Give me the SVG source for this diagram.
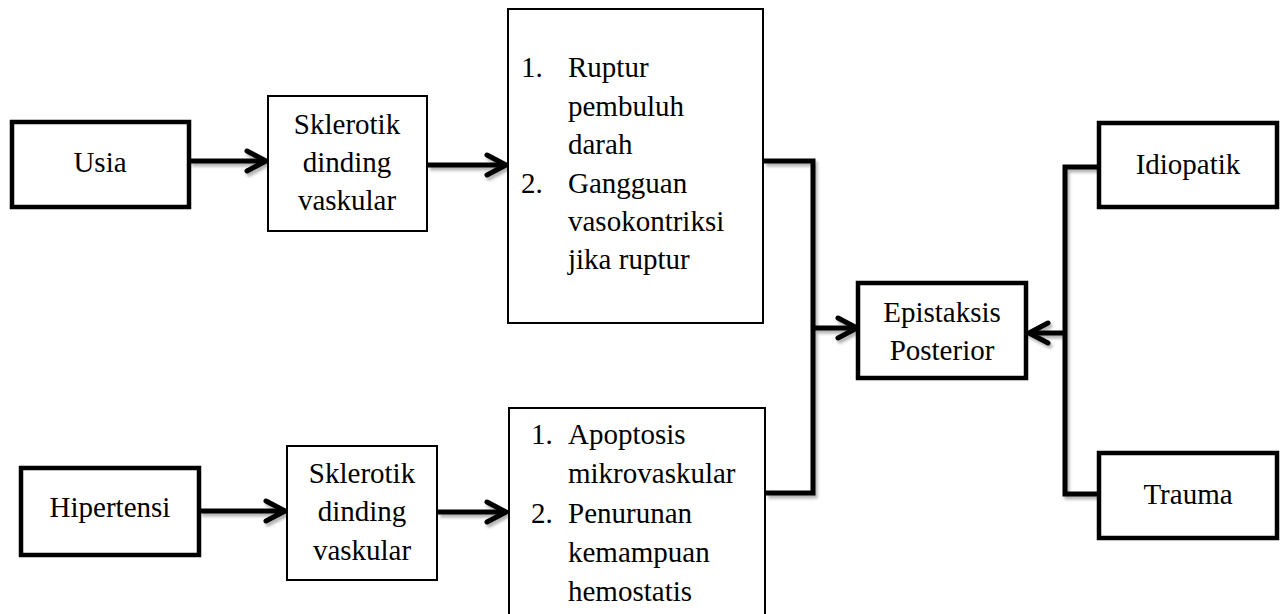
<svg xmlns="http://www.w3.org/2000/svg" width="1284" height="614" viewBox="0 0 1284 614">
<style>
.thick{fill:#fff;stroke:#000;stroke-width:4.5}
.thin{fill:#fff;stroke:#000;stroke-width:2}
text{font-family:"Liberation Serif","Times New Roman",serif;font-size:29px;fill:#000}
.c{text-anchor:middle}
.conn{fill:none;stroke:#000;stroke-width:5;stroke-linejoin:miter}
</style>
<defs>
<filter id="sh" x="-10%" y="-10%" width="120%" height="120%">
<feDropShadow dx="2" dy="3" stdDeviation="1.5" flood-color="#000" flood-opacity="0.3"/>
</filter>
<marker id="ah" viewBox="0 0 26 26" markerWidth="26" markerHeight="26" refX="22" refY="13" orient="auto" markerUnits="userSpaceOnUse">
<path d="M3,3 L22,13 L3,23" fill="none" stroke="#000" stroke-width="5" stroke-linecap="round" stroke-linejoin="miter"/>
</marker>
</defs>
<rect width="1284" height="614" fill="#fff"/>
<g id="connectors" filter="url(#sh)">
<path class="conn" d="M190,161 H266" marker-end="url(#ah)"/>
<path class="conn" d="M428,165 H506" marker-end="url(#ah)"/>
<path class="conn" d="M200,511 H285" marker-end="url(#ah)"/>
<path class="conn" d="M438,512 H506" marker-end="url(#ah)"/>
<path class="conn" d="M764,161 H813 V493 H766"/>
<path class="conn" d="M813,328 H857" marker-end="url(#ah)"/>
<path class="conn" d="M1099,167 H1065 V494 H1099"/>
<path class="conn" d="M1065,333 H1029" marker-end="url(#ah)"/>
</g>
<g id="usia">
<rect class="thick" x="12" y="122" width="177" height="85"/>
<text class="c" x="100" y="172">Usia</text>
</g>
<g id="sklerotik1">
<rect class="thin" x="268" y="96" width="159" height="135"/>
<text class="c" x="347" y="134">Sklerotik</text>
<text class="c" x="347" y="172">dinding</text>
<text class="c" x="347" y="210">vaskular</text>
</g>
<g id="box1">
<rect class="thin" x="508" y="9" width="255" height="314"/>
<text x="521" y="77">1.</text>
<text x="568" y="77">Ruptur</text>
<text x="568" y="116">pembuluh</text>
<text x="568" y="154">darah</text>
<text x="521" y="193">2.</text>
<text x="568" y="193">Gangguan</text>
<text x="568" y="231">vasokontriksi</text>
<text x="568" y="269">jika ruptur</text>
</g>
<g id="hipertensi">
<rect class="thick" x="21" y="468" width="178" height="87"/>
<text class="c" x="110" y="517">Hipertensi</text>
</g>
<g id="sklerotik2">
<rect class="thin" x="287" y="446" width="150" height="134"/>
<text class="c" x="362" y="483">Sklerotik</text>
<text class="c" x="362" y="521">dinding</text>
<text class="c" x="362" y="560">vaskular</text>
</g>
<g id="box2">
<rect class="thin" x="509" y="408" width="256" height="220"/>
<text x="531" y="444">1.</text>
<text x="568" y="444">Apoptosis</text>
<text x="568" y="483">mikrovaskular</text>
<text x="531" y="523">2.</text>
<text x="568" y="523">Penurunan</text>
<text x="568" y="562">kemampuan</text>
<text x="568" y="601">hemostatis</text>
</g>
<g id="epistaksis">
<rect class="thick" x="858" y="283" width="168" height="95"/>
<text class="c" x="942" y="322">Epistaksis</text>
<text class="c" x="942" y="360">Posterior</text>
</g>
<g id="idiopatik">
<rect class="thick" x="1099" y="123" width="178" height="84"/>
<text class="c" x="1188" y="174">Idiopatik</text>
</g>
<g id="trauma">
<rect class="thick" x="1099" y="453" width="178" height="85"/>
<text class="c" x="1188" y="504">Trauma</text>
</g>
</svg>
